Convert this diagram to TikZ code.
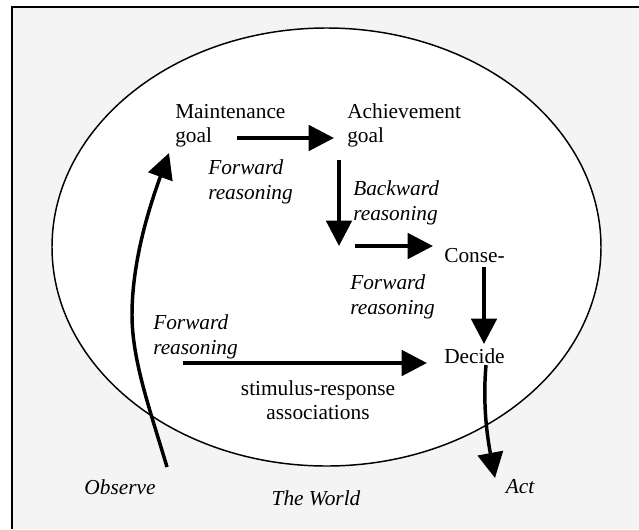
\documentclass[tikz,border=0pt]{standalone}
\usepackage{fontspec}
\setmainfont{Liberation Serif}
\usetikzlibrary{arrows.meta}
\tikzset{x=0.75pt,y=-0.75pt,
 lbl/.style={inner sep=0pt,anchor=west,font=\fontsize{16pt}{18pt}\selectfont,align=left},
 ilbl/.style={lbl,font=\fontsize{16pt}{18.7pt}\selectfont\itshape},
 frameline/.style={line width=1.3pt},
 conn/.style={line width=2.9pt,-{Triangle[length=19pt,width=19pt]}},
 bent/.style={line width=2.6pt,-{Triangle[length=19pt,width=19pt]}}}
\begin{document}
\begin{tikzpicture}
\useasboundingbox[fill=black!4.5] (0,0) rectangle (639,529);
\fill[white] (0,0) rectangle (639,7);
\fill[white] (0,0) rectangle (12,529);
\draw[frameline] (12,529) -- (12,7) -- (639,7);
\draw[line width=1.1pt,fill=white] (326.5,247) ellipse [x radius=274.5,y radius=219];
\node[lbl] (mg) at (175,125.5) {Maintenance\\goal};
\node[lbl] (ag) at (347,125.5) {Achievement\\goal};
\node[ilbl] (fr1) at (208,182) {Forward\\reasoning};
\node[ilbl] (br) at (353,202.5) {Backward\\reasoning};
\node[ilbl] (fr2) at (350,297) {Forward\\reasoning};
\node[ilbl] (fr3) at (153,337) {Forward\\reasoning};
\node[lbl] (cons) at (444,255.5) {Conse-};
\node[lbl] (dec) at (444,356) {Decide};
\node[lbl,anchor=center,align=center] (sr) at (318,400) {stimulus-response\\associations};
\node[ilbl,anchor=center] (obs) at (120,487) {Observe};
\node[ilbl,anchor=center] (world) at (316,498) {The World};
\node[ilbl,anchor=center] (act) at (520,487) {Act};
\coordinate (a1) at (237,138);
\coordinate (a2) at (334,138);
\coordinate (b1) at (339,160);
\coordinate (b2) at (339,246);
\coordinate (c1) at (355,246);
\coordinate (c2) at (433,246);
\coordinate (d1) at (484,267);
\coordinate (d2) at (484,344);
\coordinate (e1) at (183,363);
\coordinate (e2) at (427,363);
\coordinate (f1) at (167,467);
\coordinate (f2) at (169,153);
\coordinate (g1) at (486,365);
\coordinate (g2) at (495,478);
\draw[conn] (a1) -- (a2);
\draw[conn] (b1) -- (b2);
\draw[conn] (c1) -- (c2);
\draw[conn] (d1) -- (d2);
\draw[conn] (e1) -- (e2);
\draw[bent] (f1) .. controls (150,410) and (132,360) .. (132,315) .. controls (132,260) and (150,205) .. (f2);
\draw[bent] (g1) .. controls (483,400) and (486,430) .. (g2);
\end{tikzpicture}
\end{document}
